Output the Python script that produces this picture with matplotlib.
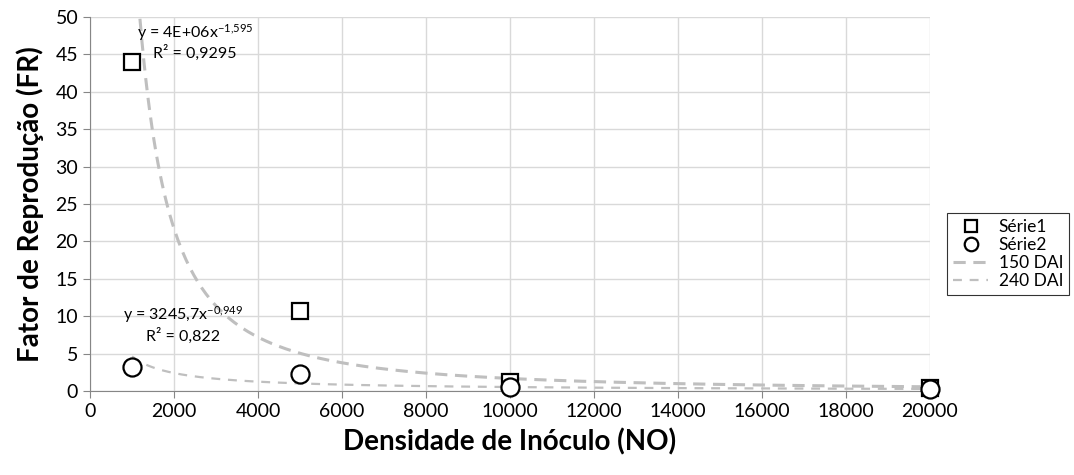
import numpy as np
import matplotlib
matplotlib.use("Agg")
from matplotlib import pyplot as plt

plt.rcParams['font.family'] = ['Lato', 'DejaVu Sans']
plt.rcParams['mathtext.fontset'] = 'custom'
plt.rcParams['mathtext.rm'] = 'Lato'

# data
densidade = [1000, 5000, 10000, 20000]
serie1 = [44.0, 10.7, 1.2, 0.4]
serie2 = [3.2, 2.3, 0.5, 0.3]

# power trendlines as printed on the chart: y = a * x^b
coef_150 = (4e6, -1.595)
coef_240 = (3245.7, -0.949)
eq_150 = ["y = 4E+06x$\\mathregular{^{-1{,}595}}$", "R² = 0,9295"]
eq_240 = ["y = 3245,7x$\\mathregular{^{-0{,}949}}$", "R² = 0,822"]

fig = plt.figure(figsize=(10.74, 4.75), dpi=100)
ax = fig.add_axes([0.0838, 0.177, 0.782, 0.787])

xs = np.linspace(min(densidade), max(densidade), 400)
ax.plot(xs, coef_150[0] * xs ** coef_150[1], color='#bfbfbf', lw=2.2,
        dashes=(4, 2.5), label='150 DAI', zorder=2)
ax.plot(xs, coef_240[0] * xs ** coef_240[1], color='#bfbfbf', lw=1.6,
        dashes=(4, 3.5), label='240 DAI', zorder=2)

ax.plot(densidade, serie1, ls='none', marker='s', ms=12, mfc='white',
        mec='black', mew=1.6, label='Série1', zorder=3, clip_on=False)
ax.plot(densidade, serie2, ls='none', marker='o', ms=13, mfc='white',
        mec='black', mew=1.6, label='Série2', zorder=3, clip_on=False)

ax.text(2500, 47.9, eq_150[0], ha='center', va='center', fontsize=11.5)
ax.text(2500, 45.2, eq_150[1], ha='center', va='center', fontsize=11.5)
ax.text(2210, 10.2, eq_240[0], ha='center', va='center', fontsize=11.5)
ax.text(2210, 7.4, eq_240[1], ha='center', va='center', fontsize=11.5)

ax.set_xlim(0, 20000)
ax.set_ylim(0, 50)
ax.set_xticks(np.arange(0, 20001, 2000))
ax.set_yticks(np.arange(0, 51, 5))
ax.grid(True, color='#d9d9d9', lw=1)
ax.set_axisbelow(True)
for s in ['top', 'right']:
    ax.spines[s].set_visible(False)
for s in ['left', 'bottom']:
    ax.spines[s].set_color('#868686')
ax.tick_params(colors='#868686', labelcolor='black', labelsize=14,
               direction='out', length=5)

ax.set_xlabel("Densidade de Inóculo (NO)", fontsize=20, fontweight='bold', labelpad=6)
ax.set_ylabel("Fator de Reprodução (FR)", fontsize=20, fontweight='bold', labelpad=8)

h, l = ax.get_legend_handles_labels()
order = [2, 3, 0, 1]
leg = fig.legend([h[i] for i in order], [l[i] for i in order],
                 loc='upper left', bbox_to_anchor=(0.874, 0.569),
                 fontsize=12.5, frameon=True, fancybox=False,
                 edgecolor='black', handlelength=2.0, handletextpad=0.6,
                 borderpad=0.35, labelspacing=0.1, markerscale=0.75)
leg.get_frame().set_linewidth(0.8)

fig.savefig("out.png", dpi=100)
